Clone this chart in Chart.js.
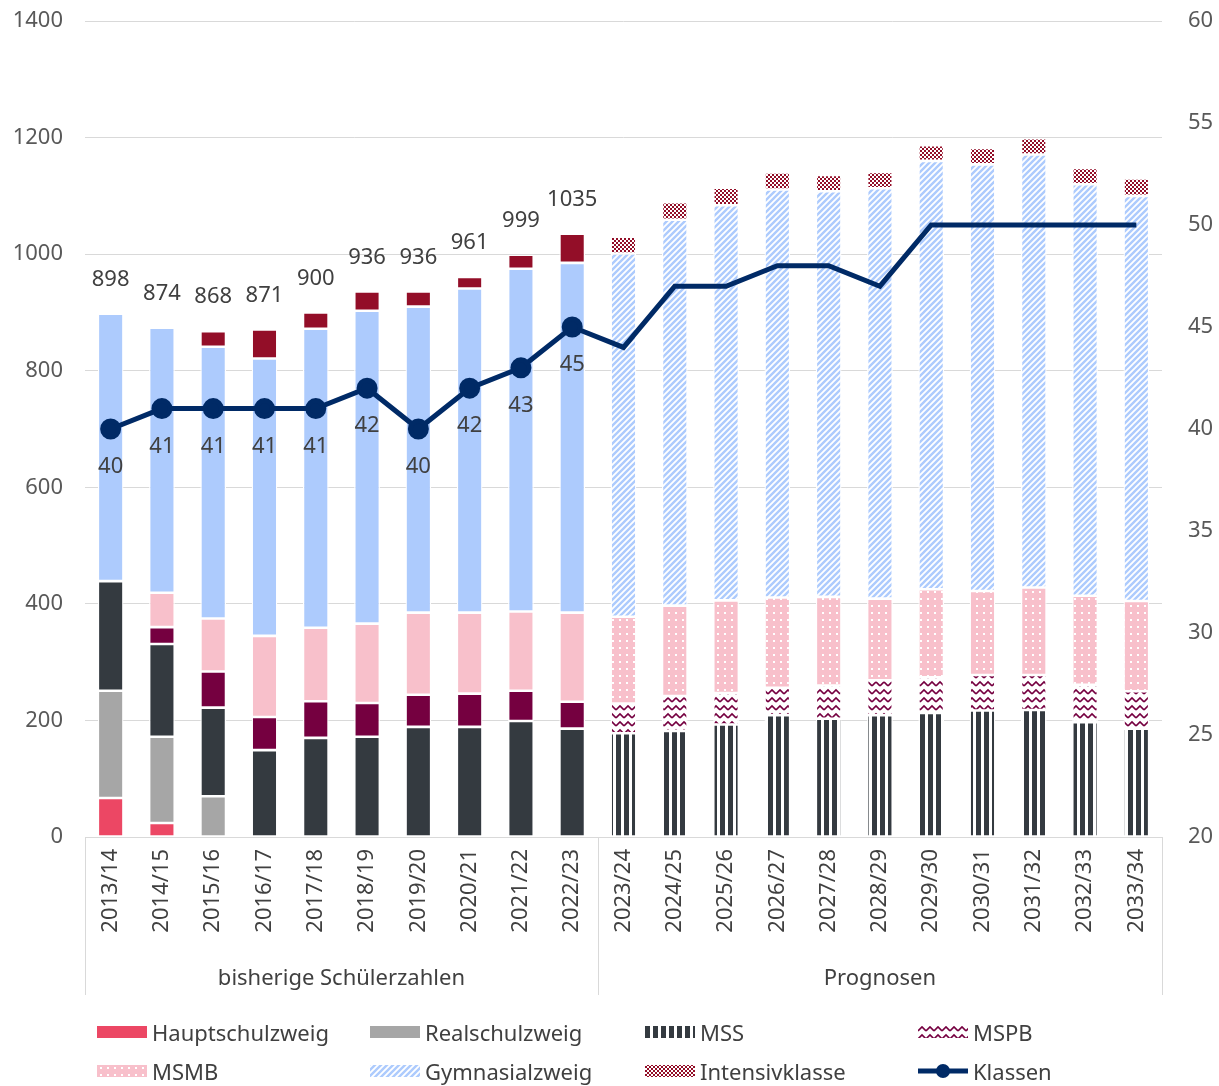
<!DOCTYPE html>
<html>
<head>
<meta charset="utf-8">
<script src="https://cdn.jsdelivr.net/npm/chart.js@4.4.1/dist/chart.umd.min.js"></script>
<style>
  body { margin: 0; background: #fff; }
  #wrap { position: relative; width: 1219px; height: 1086px; }
  #legend {
    position: absolute; left: 97px; top: 1018px;
    display: grid; grid-template-columns: 273px 275px 273px 250px; row-gap: 11px;
    font-family: "Noto Sans", sans-serif; font-size: 22px; color: #404040;
  }
  .item { display: flex; align-items: center; height: 28px; white-space: nowrap; }
  .item canvas { margin-right: 5px; }
</style>
</head>
<body>
<div id="wrap">
  <canvas id="chart" width="1219" height="1086"></canvas>
  <div id="legend"></div>
</div>
<script>
const jahre = ['2013/14', '2014/15', '2015/16', '2016/17', '2017/18', '2018/19', '2019/20', '2020/21', '2021/22', '2022/23',
    '2023/24', '2024/25', '2025/26', '2026/27', '2027/28', '2028/29', '2029/30', '2030/31', '2031/32', '2032/33', '2033/34'];

const hauptschulzweig = [67, 24, null, null, null, null, null, null, null, null, null, null, null, null, null, null, null, null, null, null, null];
const realschulzweig = [184, 148, 70, null, null, null, null, null, null, null, null, null, null, null, null, null, null, null, null, null, null];
const mss = [188, 159, 152, 149, 170, 172, 189, 189, 199, 186, 178, 182, 193, 209, 203, 209, 213, 217, 218, 197, 186];
const mspb = [null, 29, 62, 57, 63, 58, 55, 57, 52, 46, 51, 60, 54, 47, 57, 60, 61, 61, 60, 64, 64];
const msmb = [null, 59, 91, 139, 126, 136, 141, 139, 136, 153, 149, 155, 159, 155, 152, 140, 151, 144, 150, 153, 155];
const gymnasialzweig = [459, 455, 466, 476, 513, 537, 525, 556, 588, 600, 623, 662, 678, 700, 696, 704, 735, 732, 743, 706, 695];
const intensivklasse = [null, null, 27, 50, 28, 33, 26, 20, 24, 50, 29, 30, 30, 29, 28, 28, 27, 28, 28, 28, 30];
const klassen = [40, 41, 41, 41, 41, 42, 40, 42, 43, 45, 44, 47, 47, 48, 48, 47, 50, 50, 50, 50, 50];

// Summen über den bisherigen Jahren (nur dort beschriftet)
const gesamt = [898, 874, 868, 871, 900, 936, 936, 961, 999, 1035];
const anzahlBisher = 10;
const gruppen = ['bisherige Schülerzahlen', 'Prognosen'];

const FONT = '"Noto Sans", sans-serif';
const TEXT = '#404040';

// Musterkacheln für die Prognosejahre
function kachel(typ) {
    const c = document.createElement('canvas');
    const g = c.getContext('2d');
    if (typ === 'mss') {
        c.width = 8; c.height = 4;
        g.fillStyle = '#fff'; g.fillRect(0, 0, 8, 4);
        g.fillStyle = '#343a40'; g.fillRect(0, 0, 5, 4);
    } else if (typ === 'mspb') {
        c.width = 8; c.height = 8;
        g.fillStyle = '#fff'; g.fillRect(0, 0, 8, 8);
        g.strokeStyle = '#750040'; g.lineWidth = 1.6;
        g.beginPath(); g.moveTo(0, 6); g.lineTo(4, 2); g.lineTo(8, 6); g.stroke();
    } else if (typ === 'msmb') {
        c.width = 7; c.height = 7;
        g.fillStyle = '#f8c0cb'; g.fillRect(0, 0, 7, 7);
        g.fillStyle = '#fff'; g.fillRect(3, 3, 2, 2);
    } else if (typ === 'gym') {
        c.width = 6; c.height = 6;
        g.fillStyle = '#fff'; g.fillRect(0, 0, 6, 6);
        g.strokeStyle = '#adcbfd'; g.lineWidth = 2.4;
        g.beginPath();
        g.moveTo(-1, 7); g.lineTo(7, -1);
        g.moveTo(-1, 1); g.lineTo(1, -1);
        g.moveTo(5, 7); g.lineTo(7, 5);
        g.stroke();
    } else if (typ === 'intensiv') {
        c.width = 4; c.height = 4;
        g.fillStyle = '#930e28'; g.fillRect(0, 0, 4, 4);
        g.fillStyle = '#fff'; g.fillRect(0, 0, 2, 2); g.fillRect(2, 2, 2, 2);
    }
    return c;
}

const ctx = document.getElementById('chart').getContext('2d');
const muster = {};
['mss', 'mspb', 'msmb', 'gym', 'intensiv'].forEach(t => muster[t] = ctx.createPattern(kachel(t), 'repeat'));

function farben(voll, pat) {
    return jahre.map((j, i) => i < anzahlBisher ? voll : (pat || voll));
}

function balken(label, data, voll, pat, legende) {
    return {
        type: 'bar', label: label, data: data, yAxisID: 'y', order: 1,
        backgroundColor: farben(voll, pat), borderColor: '#fff', borderWidth: 1.3, borderSkipped: false,
        legende: legende
    };
}

const datasets = [
    balken('Hauptschulzweig', hauptschulzweig, '#ec4764', null, '#ec4764'),
    balken('Realschulzweig', realschulzweig, '#a6a6a6', null, '#a6a6a6'),
    balken('MSS', mss, '#343a40', muster.mss, 'mss'),
    balken('MSPB', mspb, '#750040', muster.mspb, 'mspb'),
    balken('MSMB', msmb, '#f8c0cb', muster.msmb, 'msmb'),
    balken('Gymnasialzweig', gymnasialzweig, '#adcbfd', muster.gym, 'gym'),
    balken('Intensivklasse', intensivklasse, '#930e28', muster.intensiv, 'intensiv'),
    {
        type: 'line', label: 'Klassen', data: klassen, yAxisID: 'y1', order: 0,
        borderColor: '#002a66', backgroundColor: '#002a66', borderWidth: 5,
        pointRadius: jahre.map((j, i) => i < anzahlBisher ? 8 : 0), pointHoverRadius: 8,
        tension: 0, legende: 'linie'
    }
];

const beschriftung = {
    id: 'beschriftung',
    afterDatasetsDraw(chart) {
        const c = chart.ctx, x = chart.scales.x, y = chart.scales.y, y1 = chart.scales.y1;
        const area = chart.chartArea;
        c.save();
        c.font = '22px ' + FONT;
        c.fillStyle = TEXT;
        c.textAlign = 'center';
        c.textBaseline = 'middle';
        gesamt.forEach((v, i) => c.fillText(v, x.getPixelForValue(i), y.getPixelForValue(v) - 34));
        klassen.slice(0, anzahlBisher).forEach((v, i) => c.fillText(v, x.getPixelForValue(i), y1.getPixelForValue(v) + 38));

        // Gruppen unter der Achse
        const grenze = (x.getPixelForValue(anzahlBisher - 1) + x.getPixelForValue(anzahlBisher)) / 2;
        c.strokeStyle = '#d9d9d9';
        c.lineWidth = 1;
        c.beginPath();
        [area.left, grenze, area.right].forEach(px => {
            c.moveTo(Math.round(px) + 0.5, area.bottom);
            c.lineTo(Math.round(px) + 0.5, area.bottom + 158);
        });
        c.stroke();
        c.fillText(gruppen[0], (area.left + grenze) / 2, area.bottom + 142);
        c.fillText(gruppen[1], (grenze + area.right) / 2, area.bottom + 142);
        c.restore();
    }
};

// feste Breite, keine zusätzliche Polsterung oben/unten
function festeBreite(w) {
    return s => { s.width = w; s.paddingTop = 0; s.paddingBottom = 0; };
}

const chart = new Chart(ctx, {
    data: { labels: jahre, datasets: datasets },
    plugins: [beschriftung],
    options: {
        responsive: false,
        animation: false,
        layout: { padding: { top: 21, left: 0, right: 0, bottom: 0 } },
        datasets: { bar: { barPercentage: 0.5, categoryPercentage: 1 } },
        plugins: { legend: { display: false }, tooltip: { enabled: false } },
        scales: {
            x: {
                stacked: true,
                grid: { display: false, drawTicks: false },
                border: { color: '#d9d9d9', width: 1 },
                ticks: { minRotation: 90, maxRotation: 90, padding: 12, color: TEXT, font: { family: FONT, size: 22 } },
                afterFit(s) { s.height = 1086 - 837; }
            },
            y: {
                stacked: true, position: 'left', min: 0, max: 1400,
                grid: { color: '#d9d9d9', drawTicks: false },
                border: { display: false },
                ticks: { stepSize: 200, padding: 22, color: '#595959', font: { family: FONT, size: 22 }, callback: v => String(v) },
                afterFit: festeBreite(85)
            },
            y1: {
                position: 'right', min: 20, max: 60,
                grid: { display: false, drawTicks: false },
                border: { display: false },
                ticks: { stepSize: 5, padding: 26, color: '#595959', font: { family: FONT, size: 22 }, callback: v => String(v) },
                afterFit: festeBreite(57)
            }
        }
    }
});

// Legende in vier Spalten
const legende = document.getElementById('legend');
datasets.forEach(ds => {
    const item = document.createElement('div');
    item.className = 'item';
    const sw = document.createElement('canvas');
    sw.width = 50; sw.height = 14;
    const g = sw.getContext('2d');
    if (ds.legende === 'linie') {
        g.strokeStyle = '#002a66'; g.lineWidth = 5;
        g.beginPath(); g.moveTo(0, 7); g.lineTo(50, 7); g.stroke();
        g.fillStyle = '#002a66';
        g.beginPath(); g.arc(25, 7, 7, 0, Math.PI * 2); g.fill();
    } else {
        g.fillStyle = ds.legende.startsWith('#') ? ds.legende : g.createPattern(kachel(ds.legende), 'repeat');
        g.fillRect(0, 1, 50, 12);
    }
    item.appendChild(sw);
    const t = document.createElement('span');
    t.textContent = ds.label;
    item.appendChild(t);
    legende.appendChild(item);
});
</script>
</body>
</html>
